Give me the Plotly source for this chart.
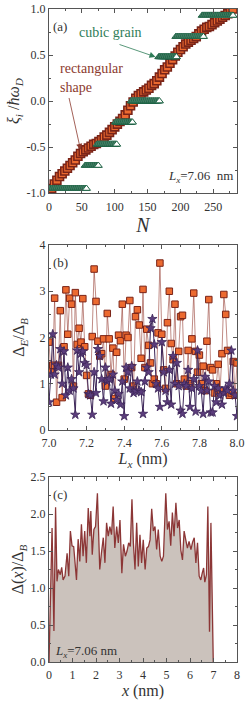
import plotly.graph_objects as go

# ---------------- panel (a) data ----------------
rect_N = list(range(0, 281, 4))
rect_xi = [-1.0, -0.95, -0.90, -0.86, -0.82, -0.79, -0.76, -0.73, -0.70, -0.67,
           -0.64, -0.60, -0.57, -0.55, -0.53, -0.51, -0.49, -0.47, -0.46, -0.44,
           -0.42, -0.39, -0.37, -0.34, -0.31, -0.28, -0.25, -0.22, -0.19, -0.15,
           -0.10, -0.05, -0.01, 0.03, 0.06, 0.08, 0.10, 0.12, 0.14, 0.17,
           0.19, 0.22, 0.26, 0.30, 0.34, 0.37, 0.41, 0.45, 0.49, 0.53,
           0.56, 0.59, 0.62, 0.64, 0.66, 0.68, 0.70, 0.73, 0.76, 0.78,
           0.80, 0.81, 0.83, 0.85, 0.87, 0.89, 0.91, 0.93, 0.95, 0.97, 1.0]

cubic_levels = [-0.95, -0.70, -0.47, -0.23, 0.0, 0.48, 0.70, 0.93]
cubic_first_N = [1, 55, 73, 101, 125, 167, 193, 233]
cubic_last_N = [57, 75, 103, 127, 168, 194, 235, 280]

# ---------------- panel (b) data ----------------
Lx = [round(7.0 + 0.01 * i, 2) for i in range(101)]
delta_rect = [1.9, 1.25, 1.4, 2.85, 0.6, 1.4, 2.58, 0.7, 1.8, 3.03,
              2.07, 2.85, 2.72, 0.95, 2.97, 1.85, 2.2, 1.9, 2.84, 1.8,
              1.18, 0.78, 0.75, 2.02, 3.48, 2.78, 1.92, 1.6, 1.65, 1.97,
              0.95, 2.52, 1.97, 1.2, 1.77, 0.68, 1.68, 2.05, 1.93, 2.72,
              1.1, 2.05, 2.0, 2.8, 1.35, 0.95, 2.45, 2.6, 2.27, 1.55,
              3.04, 1.35, 2.18, 1.83, 1.45, 1.0, 1.1, 1.0, 2.1, 3.61,
              2.07, 1.3, 0.9, 2.32, 3.0, 1.87, 1.52, 2.72, 1.0, 1.7,
              2.45, 2.48, 1.1, 0.95, 1.72, 1.0, 1.97, 2.96, 1.7, 1.25,
              1.62, 1.0, 1.38, 0.85, 1.92, 2.82, 1.35, 1.3, 0.8, 1.0,
              1.42, 0.85, 1.65, 2.93, 2.5, 1.72, 0.75, 0.8, 1.48, 0.75, 1.45]
delta_cubic = [0.6, 1.2, 2.07, 1.2, 1.4, 1.35, 1.75, 1.0, 1.7, 0.75,
               1.35, 0.85, 1.1, 0.9, 0.33, 1.72, 1.25, 1.65, 1.7, 1.45,
               1.4, 0.78, 0.75, 0.33, 1.25, 0.8, 1.75, 1.6, 1.1, 0.62,
               1.35, 1.05, 1.1, 0.57, 1.2, 0.85, 0.65, 0.78, 0.55, 1.05,
               0.3, 1.35, 1.25, 0.9, 1.38, 0.8, 0.85, 1.05, 0.85, 0.82,
               0.35, 1.05, 1.35, 1.25, 2.2, 2.4, 1.85, 1.0, 0.9, 0.5,
               1.9, 1.25, 0.85, 0.6, 1.3, 0.55, 1.6, 1.0, 1.45, 0.95,
               0.42, 0.35, 1.0, 0.95, 1.3, 0.5, 0.9, 1.1, 0.4, 1.72,
               0.95, 0.85, 0.35, 1.15, 0.85, 1.05, 0.38, 0.38, 0.95, 0.6,
               0.9, 0.75, 0.55, 0.8, 0.9, 0.85, 1.0, 1.72, 0.85, 0.75, 0.3]

# ---------------- panel (c) data ----------------
x_nm = [0.0, 0.13, 0.21, 0.28, 0.34, 0.40, 0.48, 0.54, 0.60, 0.68,
        0.77, 0.84, 0.91, 0.98, 1.05, 1.17, 1.24, 1.31, 1.38, 1.45,
        1.52, 1.59, 1.67, 1.74, 1.78, 1.84, 1.91, 1.98, 2.06, 2.16,
        2.23, 2.31, 2.38, 2.45, 2.52, 2.59, 2.66, 2.73, 2.80, 2.88,
        2.95, 3.02, 3.10, 3.17, 3.25, 3.32, 3.39, 3.46, 3.53, 3.59,
        3.66, 3.73, 3.80, 3.87, 3.94, 4.01, 4.09, 4.16, 4.23, 4.30,
        4.37, 4.44, 4.51, 4.58, 4.65, 4.73, 4.80, 4.87, 4.97, 5.04,
        5.11, 5.18, 5.25, 5.32, 5.40, 5.47, 5.54, 5.61, 5.68, 5.75,
        5.82, 5.89, 5.96, 6.04, 6.11, 6.18, 6.25, 6.32, 6.39, 6.46,
        6.52, 6.58, 6.63, 6.70, 6.76, 6.83, 6.89, 6.99]
gap_x = [0.0, 1.81, 0.42, 2.09, 1.09, 1.25, 1.18, 1.28, 1.11, 1.16,
         1.47, 1.16, 1.77, 1.57, 1.56, 1.11, 1.66, 1.36, 1.86, 1.43,
         1.77, 1.34, 2.08, 1.70, 2.04, 1.45, 1.79, 1.83, 2.28, 1.25,
         1.47, 1.68, 1.34, 1.88, 1.70, 1.83, 1.72, 2.10, 1.54, 1.83,
         1.61, 1.92, 1.20, 1.59, 1.43, 1.50, 1.61, 1.56, 2.20, 1.61,
         1.25, 1.88, 1.29, 1.72, 1.34, 1.65, 1.25, 1.54, 1.56, 1.65,
         2.07, 1.77, 1.83, 1.52, 1.79, 1.43, 1.36, 1.43, 2.28, 1.79,
         1.90, 1.57, 2.02, 1.70, 2.15, 1.81, 1.92, 1.51, 1.38, 1.77,
         1.65, 1.54, 1.63, 1.52, 1.62, 1.68, 1.34, 1.61, 1.16, 1.11,
         1.20, 1.27, 1.08, 1.18, 2.10, 0.41, 1.88, 0.0]

FONT = "Liberation Serif, Times New Roman, serif"
RED_EDGE = "#7a2418"
ORANGE = "#ec6a30"
GREEN = "#2f7d58"
GREEN_EDGE = "#1f6446"
PURPLE = "#5b3d7c"
PURPLE_EDGE = "#3c2558"

fig = go.Figure()

# panel (a)
fig.add_trace(go.Scatter(
    x=rect_N, y=rect_xi, mode="markers", xaxis="x", yaxis="y",
    marker=dict(symbol="square", size=8, color=ORANGE,
                line=dict(color=RED_EDGE, width=1.6)),
    showlegend=False, hoverinfo="skip"))
for lev, n0, n1 in zip(cubic_levels, cubic_first_N, cubic_last_N):
    ns = list(range(n0, n1 + 1))
    fig.add_trace(go.Scatter(
        x=ns, y=[lev] * len(ns), mode="markers", xaxis="x", yaxis="y",
        marker=dict(symbol="triangle-up", size=7, color="white",
                    line=dict(color=GREEN_EDGE, width=1)),
        showlegend=False, hoverinfo="skip"))

# panel (b)
fig.add_trace(go.Scatter(
    x=Lx, y=delta_rect, mode="lines+markers", xaxis="x2", yaxis="y2",
    line=dict(color="rgba(150,60,50,0.75)", width=0.8),
    marker=dict(symbol="square", size=6.5, color=ORANGE,
                line=dict(color=RED_EDGE, width=1)),
    showlegend=False, hoverinfo="skip"))
fig.add_trace(go.Scatter(
    x=Lx, y=delta_cubic, mode="lines+markers", xaxis="x2", yaxis="y2",
    line=dict(color=PURPLE_EDGE, width=1),
    marker=dict(symbol="star", size=7, color=PURPLE,
                line=dict(color=PURPLE_EDGE, width=0.8)),
    showlegend=False, hoverinfo="skip"))

# panel (c)
fig.add_trace(go.Scatter(
    x=x_nm, y=gap_x, mode="lines", xaxis="x3", yaxis="y3",
    line=dict(color="#8c3636", width=1.3), fill="tozeroy",
    fillcolor="#cbc2bc", showlegend=False, hoverinfo="skip"))


def ax(**kw):
    d = dict(showline=True, mirror="allticks", linecolor="#555", linewidth=1,
             ticks="inside", ticklen=4, tickcolor="#555", showgrid=False,
             zeroline=False, automargin=False,
             tickfont=dict(family=FONT, size=12, color="#333"))
    d.update(kw)
    return d


def mn(dt, t0):
    return dict(ticks="inside", ticklen=2, tickcolor="#555", dtick=dt, tick0=t0)


ya = (0.718, 1.0)
yb = (0.3553, 0.6386)
yc = (0.0, 0.2833)
ttl = dict(family=FONT, size=16, color="#333")

fig.update_layout(
    width=249, height=704, margin=dict(l=49, r=12, t=9, b=42, autoexpand=False),
    paper_bgcolor="white", plot_bgcolor="white",
    font=dict(family=FONT),
    xaxis=ax(domain=[0, 1], range=[0, 286], tickvals=[0, 50, 100, 150, 200, 250],
             minor=mn(25, 0), anchor="y", ticklabelstandoff=2,
             title=dict(text="<i>N</i>", font=dict(family=FONT, size=20, color="#333"), standoff=0)),
    yaxis=ax(domain=list(ya), range=[-1.0, 1.0], tickvals=[-1, -0.5, 0, 0.5, 1],
             ticktext=["-1.0", "-0.5", "0.0", "0.5", "1.0"], minor=mn(0.25, 0), anchor="x",
             title=dict(text="<i>ξ</i><sub><i>i</i></sub> /<i>ħω</i><sub><i>D</i></sub>", font=ttl, standoff=2)),
    xaxis2=ax(domain=[0, 1], range=[7.0, 8.0], tickvals=[7.0, 7.2, 7.4, 7.6, 7.8, 8.0],
              ticktext=["7.0", "7.2", "7.4", "7.6", "7.8", "8.0"], minor=mn(0.1, 7.0), anchor="y2",
              ticklabelstandoff=2,
              title=dict(text="<i>L</i><sub><i>x</i></sub> (nm)", font=ttl, standoff=0)),
    yaxis2=ax(domain=list(yb), range=[0, 4], tickvals=[0, 1, 2, 3, 4], minor=mn(0.5, 0), anchor="x2",
              title=dict(text="Δ<sub><i>E</i></sub>/Δ<sub><i>B</i></sub>", font=ttl, standoff=10)),
    xaxis3=ax(domain=[0, 1], range=[0, 8], tickvals=list(range(9)), minor=mn(0.5, 0), anchor="y3",
              ticklabelstandoff=2,
              title=dict(text="<i>x</i> (nm)", font=ttl, standoff=0)),
    yaxis3=ax(domain=list(yc), range=[0, 2.5], tickvals=[0, 0.5, 1, 1.5, 2, 2.5],
              ticktext=["0.0", "0.5", "1.0", "1.5", "2.0", "2.5"], minor=mn(0.25, 0), anchor="x3",
              title=dict(text="Δ(<i>x</i>)/Δ<sub><i>B</i></sub>", font=ttl, standoff=2)),
)

tf = dict(family=FONT, size=13, color="#333")
anns = [
    dict(xref="x domain", yref="y domain", x=0.01, y=0.955, text="(a)", showarrow=False,
         xanchor="left", yanchor="top", font=tf),
    dict(xref="x", yref="y", x=42, y=0.74, text="cubic grain", showarrow=False,
         xanchor="left", font=dict(family=FONT, size=14, color=GREEN)),
    dict(xref="x", yref="y", x=14, y=0.35, text="rectangular", showarrow=False,
         xanchor="left", font=dict(family=FONT, size=14, color="#8b3a2e")),
    dict(xref="x", yref="y", x=14, y=0.15, text="shape", showarrow=False,
         xanchor="left", font=dict(family=FONT, size=14, color="#8b3a2e")),
    dict(xref="x", yref="y", x=162, y=0.48, ax=105, ay=0.62, axref="x", ayref="y",
         text="", showarrow=True, arrowhead=2, arrowsize=1.5, arrowwidth=0.8, arrowcolor=GREEN),
    dict(xref="x", yref="y", x=48, y=-0.53, ax=30, ay=0.05, axref="x", ayref="y",
         text="", showarrow=True, arrowhead=2, arrowsize=1.5, arrowwidth=0.8, arrowcolor="#8b3a2e"),
    dict(xref="x domain", yref="y domain", x=0.99, y=0.035, text="<i>L</i><sub><i>x</i></sub>=7.06  nm",
         showarrow=False, xanchor="right", yanchor="bottom", font=tf),
    dict(xref="x2 domain", yref="y2 domain", x=0.01, y=0.955, text="(b)", showarrow=False,
         xanchor="left", yanchor="top", font=tf),
    dict(xref="x3 domain", yref="y3 domain", x=0.01, y=0.955, text="(c)", showarrow=False,
         xanchor="left", yanchor="top", font=tf),
    dict(xref="x3 domain", yref="y3 domain", x=0.02, y=0.0, text="<i>L</i><sub><i>x</i></sub>=7.06 nm",
         showarrow=False, xanchor="left", yanchor="bottom", font=tf),
]
fig.update_layout(annotations=anns)

fig.write_html("out.html", config={"displayModeBar": False},
               post_script="document.body.style.margin='0';document.body.style.overflow='hidden';")
